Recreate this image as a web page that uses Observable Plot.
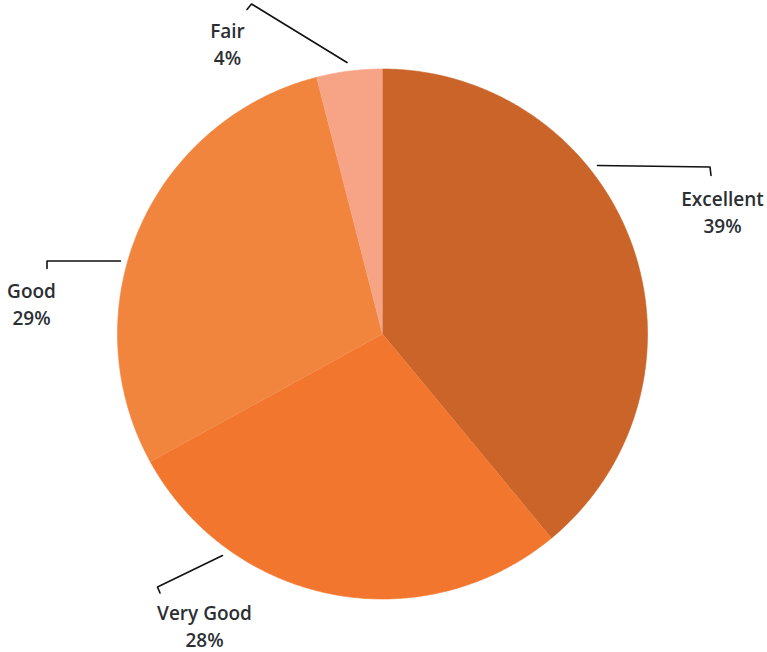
<!DOCTYPE html>
<html>
<head>
<meta charset="utf-8">
<script src="https://cdn.jsdelivr.net/npm/d3@7"></script>
<script src="https://cdn.jsdelivr.net/npm/@observablehq/plot@0.6"></script>
<style>
  html, body { margin: 0; padding: 0; background: #fff; }
  #chart svg { display: block; }
</style>
</head>
<body>
<div id="chart"></div>
<script>
// ---- data ----
const categories = ["Excellent", "Very Good", "Good", "Fair"];
const values = [39, 28, 29, 4];
const colors = ["#CA6428", "#F2762E", "#F2853E", "#F6A386"];

// ---- layout (pixels) ----
const W = 767, H = 652;
const cx = 382, cy = 333.5, R = 265;
const toX = p => (p - cx) / R;
const toY = p => (cy - p) / R;

// label centres and leader polylines (annotation layout, pixels)
const labelPos = {
  "Excellent": [722, 210],
  "Very Good": [204, 624],
  "Good": [31, 302],
  "Fair": [227, 42]
};
const leaders = {
  "Excellent": [[597, 165], [709.5, 166.5], [710.5, 175]],
  "Very Good": [[222, 555], [157, 586.5], [159.5, 592.5]],
  "Good": [[120, 260.5], [46.5, 260.5], [46.5, 268]],
  "Fair": [[346.5, 62], [251, 3.5], [246.5, 9]]
};

// ---- slices as polygons (built from values) ----
const total = d3.sum(values);
const slicePts = [];
let acc = 0;
categories.forEach((c, i) => {
  const a0 = acc / total * 2 * Math.PI;
  acc += values[i];
  const a1 = acc / total * 2 * Math.PI;
  slicePts.push({cat: c, x: 0, y: 0});
  const n = Math.max(4, Math.ceil((a1 - a0) / (Math.PI / 360)));
  for (let k = 0; k <= n; k++) {
    const a = a0 + (a1 - a0) * k / n;
    slicePts.push({cat: c, x: Math.sin(a), y: Math.cos(a)});
  }
});

const labels = categories.map((c, i) => ({
  cat: c,
  text: `${c}\n${values[i]}%`,
  x: toX(labelPos[c][0]),
  y: toY(labelPos[c][1])
}));
const leaderPts = categories.flatMap(c =>
  leaders[c].map(([px, py]) => ({cat: c, x: toX(px), y: toY(py)}))
);

const chart = Plot.plot({
  width: W,
  height: H,
  margin: 0,
  x: {domain: [toX(0), toX(W)], axis: null},
  y: {domain: [toY(H), toY(0)], axis: null},
  color: {domain: categories, range: colors},
  style: {fontFamily: "'Open Sans', sans-serif", background: "#fff"},
  marks: [
    Plot.line(slicePts, {x: "x", y: "y", z: "cat", fill: "cat", stroke: "cat", strokeWidth: 0.6, curve: "linear"}),
    Plot.line(leaderPts, {x: "x", y: "y", z: "cat", stroke: "#111", strokeWidth: 1.6, curve: "linear"}),
    Plot.text(labels, {x: "x", y: "y", text: "text", fill: "#2b2f33", fontSize: 19, fontWeight: 600, lineHeight: 1.45, textAnchor: "middle"})
  ]
});
document.getElementById("chart").appendChild(chart);
</script>
</body>
</html>
